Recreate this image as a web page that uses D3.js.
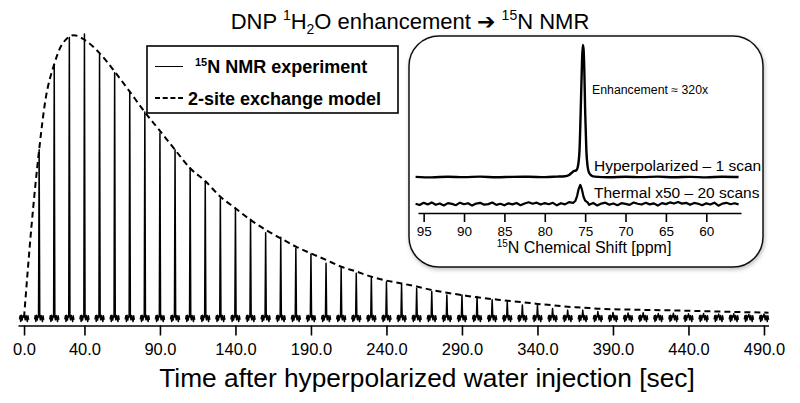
<!DOCTYPE html>
<html>
<head>
<meta charset="utf-8">
<script src="https://cdn.jsdelivr.net/npm/d3@7"></script>
<style>
  body { margin: 0; background: #fff; }
  svg { display: block; font-family: 'Liberation Sans', Arial, Helvetica, sans-serif; }
</style>
</head>
<body>
<svg id="chart" width="800" height="403"></svg>
<script>
// peak times [sec] and measured 15N peak heights (scaled, max ~100)
const peakTimes = [0, 10, 20, 30, 40, 50, 60, 70, 80, 90, 100, 110, 120, 130, 140, 150, 160, 170, 180, 190,
  200, 210, 220, 230, 240, 250, 260, 270, 280, 290, 300, 310, 320, 330, 340, 350, 360, 370, 380, 390,
  400, 410, 420, 430, 440, 450, 460, 470, 480, 490]
const peakHeights = [0.8, 59.1, 89.3, 98.7, 99.9, 92.8, 86.3, 79.3, 72.4, 65.0, 59.1, 52.8, 47.9, 42.0, 38.5, 34.6, 29.9, 28.3, 24.4, 22.4,
  19.1, 17.4, 15.6, 14.4, 12.6, 11.8, 10.2, 9.2, 7.9, 7.9, 7.4, 6.3, 5.6, 4.4, 4.4, 3.2, 2.6, 2.6, 2.1, 1.8,
  1.6, 1.7, 1.4, 1.5, 1.3, 1.4, 1.2, 1.3, 1.1, 1.2]

// 2-site exchange model
const modelTimes = [0, 5, 10, 14, 20, 25, 33, 40, 50, 60, 70, 80, 90, 100, 110, 120, 130, 140, 150, 160, 170, 180, 190,
  200, 210, 220, 230, 240, 250, 260, 270, 280, 290, 300, 310, 320, 330, 340, 350, 360, 370, 380, 400, 430, 460, 493]
const modelValues = [0, 32.6, 59.1, 76.1, 89.3, 96.1, 99.5, 97.9, 93.2, 86.7, 79.6, 72.4, 65.8, 59.1, 52.6, 48.1, 42.6, 38.5, 34.4, 30.9, 27.9, 25.0, 22.6,
  20.3, 17.9, 16.2, 14.4, 13.0, 12.0, 10.9, 9.7, 8.7, 7.9, 7.1, 6.5, 5.9, 5.4, 4.8, 4.3, 3.8, 3.5, 3.1, 2.8, 2.5, 2.1, 1.7]

// little noisy foot under every peak (offset in sec, intensity)
const footOffsets = [-3, -2.6, -2.2, -1.8, -1.3, -0.8, -0.4, 0, 0.4, 0.8, 1.3, 1.8, 2.2, 2.6, 3]
const footNoise = [-0.7, 0.6, -1.4, 0.8, -0.9, 0.5, 0.2, null, 0.3, -0.8, 0.7, -0.5, -1.4, 0.6, -0.8]

const xTicks = [0, 40, 90, 140, 190, 240, 290, 340, 390, 440, 490]

// inset spectra [ppm, intensity]
const hyperSpectrum = [[96, 0.1], [94, -0.3], [92, 0.2], [90, -0.1], [88, 0.3], [86, -0.2], [84, 0.1], [82, 0.2], [80, -0.1],
  [78.5, 0.3], [77.5, 0.6], [77, 1.5], [76.7, 3], [76.4, 4.5], [76.1, 5], [75.9, 8], [75.7, 20], [75.55, 50], [75.4, 85],
  [75.3, 100], [75.2, 97], [75.1, 80], [75.0, 50], [74.85, 20], [74.7, 8], [74.5, 3], [74.2, 1], [73.8, 0.3], [72, -0.2],
  [70, 0.2], [68, -0.1], [66, 0.3], [64, -0.2], [62, 0.1], [60, -0.3], [58, 0.2], [56, 0]]
const thermalSpectrum = [[96, 0.2], [95.5, -0.8], [95, 0.9], [94.5, -0.3], [94, 1.2], [93.5, -0.6], [93, 0.4], [92.5, -1.1],
  [92, 0.7], [91.5, 0.1], [91, -0.9], [90.5, 1.0], [90, -0.2], [89.5, 0.6], [89, -1.2], [88.5, 0.3], [88, 0.9], [87.5, -0.5],
  [87, -0.1], [86.5, 1.1], [86, -0.7], [85.5, 0.2], [85, -1.0], [84.5, 0.5], [84, -0.3], [83.5, 0.8], [83, -0.9], [82.5, 0.4],
  [82, 1.3], [81.5, 0.2], [81, 1.0], [80.5, -0.4], [80, 0.7], [79.5, -0.2], [79, 0.9], [78.5, -1.0], [78, 0.6], [77.5, -0.3],
  [77, 1.4], [76.5, 0.8], [76.2, 2.5], [76.0, 6], [75.8, 11.5], [75.6, 14.4], [75.4, 11], [75.2, 5.5], [75.0, 2.5], [74.7, 1.2],
  [74.5, -0.6], [74, 0.8], [73.5, -1.1], [73, 0.3], [72.5, 1.0], [72, -0.5], [71.5, 0.4], [71, -0.9], [70.5, 0.6], [70, 0.1],
  [69.5, -0.7], [69, 1.1], [68.5, 0.2], [68, -0.4], [67.5, 0.9], [67, -0.3], [66.5, 0.5], [66, -1.2], [65.5, 0.7], [65, -0.1],
  [64.5, 1.2], [64, 0.4], [63.5, 1.5], [63, 0.3], [62.5, 0.9], [62, -0.6], [61.5, 0.8], [61, 0.2], [60.5, -0.9], [60, 0.5],
  [59.5, -0.4], [59, 1.0], [58.5, -1.3], [58, 0.3], [57.5, 0.9], [57, -0.2], [56.5, 0.6], [56, -0.3]]
const ppmTicks = [95, 90, 85, 80, 75, 70, 65, 60]

const svg = d3.select('#chart')

const x = d3.scaleLinear().domain([-4, 493]).range([18, 768.5])
const y = d3.scaleLinear().domain([0, 100]).range([317.5, 33.8])

// ---- main axis
const xAxis = svg.append('g')
    .attr('transform', 'translate(0,325.5)')
    .call(d3.axisBottom(x).tickValues(xTicks).tickFormat(d3.format('.1f')).tickSize(10).tickSizeOuter(0).tickPadding(8))
xAxis.select('.domain').attr('stroke-width', 1.6)
xAxis.selectAll('.tick line').attr('stroke-width', 1.6)
xAxis.selectAll('.tick text').attr('font-size', 16.5).attr('font-family', null).attr('fill', '#000')

svg.append('text')
    .attr('x', 427).attr('y', 387)
    .attr('text-anchor', 'middle')
    .attr('font-size', 26.3)
    .text('Time after hyperpolarized water injection [sec]')

// ---- peaks
const peakLine = d3.line().x(d => x(d[0])).y(d => y(d[1]))
const peaks = peakTimes.map((t, i) => footOffsets.map((o, j) => [t + o, footNoise[j] === null ? peakHeights[i] : footNoise[j]]))

svg.append('g')
  .selectAll('path')
  .data(peaks)
  .join('path')
    .attr('d', peakLine)
    .attr('fill', 'none')
    .attr('stroke', '#000')
    .attr('stroke-width', 1.5)
    .attr('stroke-linejoin', 'round')

// ---- model curve
const modelLine = d3.line()
    .x((d, i) => x(modelTimes[i]))
    .y(d => y(d))
    .curve(d3.curveMonotoneX)

svg.append('path')
    .datum(modelValues)
    .attr('d', modelLine)
    .attr('fill', 'none')
    .attr('stroke', '#000')
    .attr('stroke-width', 2)
    .attr('stroke-dasharray', '6,4')

// ---- title
const title = svg.append('text')
    .attr('x', 410).attr('y', 28.5)
    .attr('text-anchor', 'middle')
    .attr('font-size', 22)
title.append('tspan').text('DNP ')
title.append('tspan').attr('font-size', 14).attr('dy', -9).text('1')
title.append('tspan').attr('dy', 9).text('H')
title.append('tspan').attr('font-size', 14).attr('dy', 5).text('2')
title.append('tspan').attr('dy', -5).text('O enhancement ')
title.append('tspan').attr('font-family', 'DejaVu Sans').attr('font-size', 22).text('\u2794')
title.append('tspan').text(' ')
title.append('tspan').attr('font-size', 14).attr('dy', -9).text('15')
title.append('tspan').attr('dy', 9).text('N NMR')

// ---- legend
const legend = svg.append('g')
legend.append('rect')
    .attr('x', 147).attr('y', 46).attr('width', 251).attr('height', 67)
    .attr('fill', '#fff').attr('stroke', '#000').attr('stroke-width', 1.6)
legend.append('line')
    .attr('x1', 155).attr('x2', 183).attr('y1', 66.5).attr('y2', 66.5)
    .attr('stroke', '#000').attr('stroke-width', 1)
legend.append('line')
    .attr('x1', 155).attr('x2', 183).attr('y1', 98).attr('y2', 98)
    .attr('stroke', '#000').attr('stroke-width', 2).attr('stroke-dasharray', '5,2.7')
const l1 = legend.append('text').attr('x', 195).attr('y', 72.5).attr('font-size', 18).attr('font-weight', 'bold')
l1.append('tspan').attr('font-size', 11).attr('dy', -7).text('15')
l1.append('tspan').attr('dy', 7).text('N NMR experiment')
legend.append('text').attr('x', 188).attr('y', 104.5).attr('font-size', 18).attr('font-weight', 'bold')
    .text('2-site exchange model')

// ---- inset
const defs = svg.append('defs')
const shadow = defs.append('filter').attr('id', 'shadow').attr('x', '-10%').attr('y', '-10%').attr('width', '130%').attr('height', '130%')
shadow.append('feDropShadow').attr('dx', 1).attr('dy', 2).attr('stdDeviation', 2).attr('flood-color', '#000').attr('flood-opacity', 0.25)

const inset = svg.append('g')
inset.append('rect')
    .attr('x', 409).attr('y', 36).attr('width', 354).attr('height', 231).attr('rx', 30).attr('ry', 30)
    .attr('fill', '#fff').attr('stroke', '#111').attr('stroke-width', 1.5)
    .attr('filter', 'url(#shadow)')

const xi = d3.scaleLinear().domain([95.7, 55.7]).range([418, 741])
const yHyper = d3.scaleLinear().domain([0, 100]).range([177, 45])
const yThermal = d3.scaleLinear().domain([0, 100]).range([204, 72])

const iAxis = inset.append('g')
    .attr('transform', 'translate(0,213)')
    .call(d3.axisBottom(xi).tickValues(ppmTicks).tickSize(9).tickSizeOuter(0).tickPadding(4))
iAxis.select('.domain').attr('stroke-width', 1.6)
iAxis.selectAll('.tick line').attr('stroke-width', 1.6)
iAxis.selectAll('.tick text').attr('font-size', 13.5).attr('font-family', null).attr('fill', '#000')

const iTitle = inset.append('text').attr('x', 584).attr('y', 253).attr('text-anchor', 'middle').attr('font-size', 16)
iTitle.append('tspan').attr('font-size', 10).attr('dy', -6).text('15')
iTitle.append('tspan').attr('dy', 6).text('N Chemical Shift [ppm]')

inset.append('path')
    .datum(thermalSpectrum)
    .attr('d', d3.line().x(d => xi(d[0])).y(d => yThermal(d[1])))
    .attr('fill', 'none').attr('stroke', '#000').attr('stroke-width', 2.2).attr('stroke-linejoin', 'round')

inset.append('path')
    .datum(hyperSpectrum)
    .attr('d', d3.line().x(d => xi(d[0])).y(d => yHyper(d[1])).curve(d3.curveMonotoneX))
    .attr('fill', 'none').attr('stroke', '#000').attr('stroke-width', 2.4).attr('stroke-linejoin', 'round')

inset.append('text').attr('x', 592).attr('y', 94).attr('font-size', 12.3).text('Enhancement \u2248 320x')
inset.append('text').attr('x', 594).attr('y', 171).attr('font-size', 15.5).text('Hyperpolarized \u2013 1 scan')
inset.append('text').attr('x', 594).attr('y', 197.5).attr('font-size', 15.5).text('Thermal x50 \u2013 20 scans')
</script>
</body>
</html>
